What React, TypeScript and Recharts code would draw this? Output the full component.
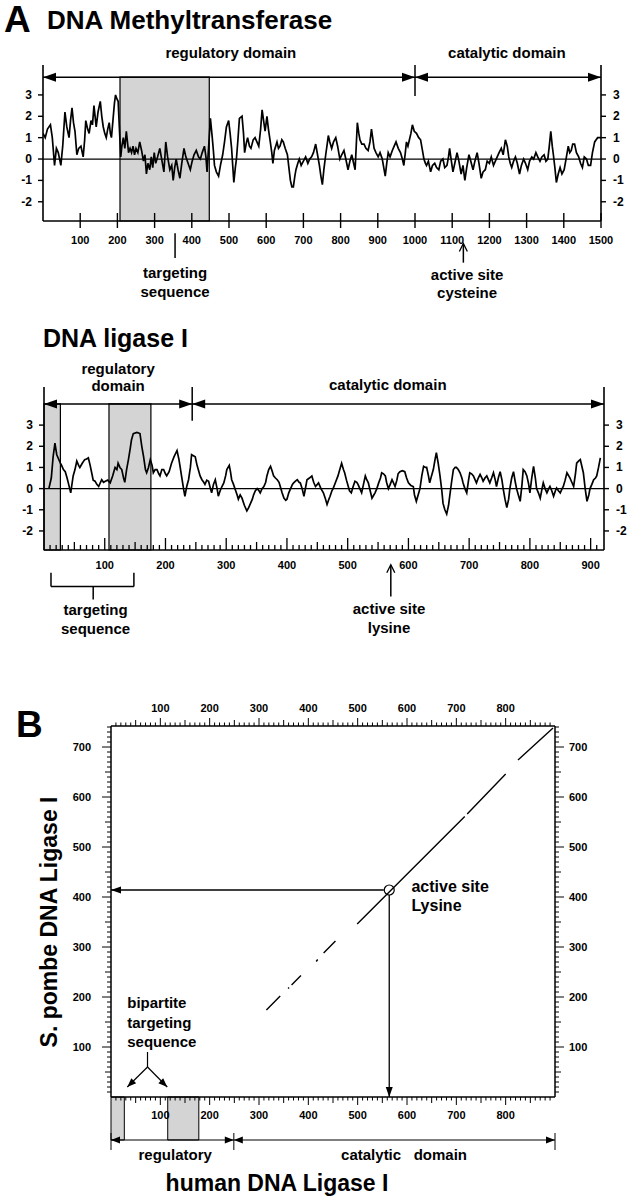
import React from "react";
import {
  ComposedChart,
  Line,
  XAxis,
  YAxis,
  ReferenceLine,
  ReferenceArea,
  ReferenceDot,
} from "recharts";

const FONT = "'Liberation Sans', Arial, Helvetica, sans-serif";
const INK = "#000";
const SHADE = "#d4d4d4";

// hydropathy profile, DNA methyltransferase (residue -> score)
const mtResidue = [
  0, 6, 12, 20, 25, 31, 36, 41, 48, 53, 59, 64, 70, 74, 78, 82, 86, 91, 96, 102,
  108, 112, 115, 120, 124, 129, 133, 137, 140, 143, 148, 154, 158, 162, 166, 170, 174, 178, 181, 184,
  188, 192, 195, 199, 202, 206, 209, 212, 216, 220, 224, 227, 230, 234, 238, 242, 246, 250, 255, 260,
  265, 270, 274, 278, 282, 287, 291, 295, 299, 303, 308, 314, 319, 325, 328, 330, 335, 341, 346, 350,
  354, 358, 363, 368, 373, 379, 384, 390, 396, 401, 406, 412, 418, 423, 428, 434, 438, 441, 445, 450,
  455, 458, 461, 466, 472, 477, 483, 488, 493, 499, 503, 507, 510, 513, 517, 520, 524, 528, 535, 539,
  542, 546, 550, 555, 559, 565, 570, 575, 580, 585, 589, 593, 597, 602, 606, 611, 615, 618, 622, 629,
  633, 637, 642, 646, 651, 657, 661, 665, 669, 673, 677, 680, 685, 689, 694, 700, 706, 712, 717, 722,
  727, 733, 738, 743, 747, 751, 755, 760, 764, 767, 771, 776, 781, 787, 792, 798, 803, 809, 814, 820,
  825, 830, 835, 839, 842, 845, 849, 852, 857, 863, 868, 874, 879, 883, 887, 890, 895, 901, 906, 912,
  916, 920, 924, 928, 933, 939, 944, 949, 955, 961, 966, 970, 974, 977, 981, 985, 989, 993, 998, 1004,
  1010, 1015, 1020, 1024, 1028, 1031, 1036, 1042, 1047, 1053, 1058, 1064, 1069, 1075, 1080, 1086, 1090, 1093, 1097, 1102,
  1107, 1113, 1118, 1124, 1129, 1134, 1139, 1145, 1150, 1156, 1161, 1167, 1172, 1178, 1183, 1189, 1194, 1200, 1205, 1211,
  1216, 1221, 1226, 1232, 1237, 1243, 1248, 1252, 1256, 1260, 1265, 1270, 1275, 1281, 1286, 1292, 1297, 1303, 1308, 1314,
  1319, 1325, 1330, 1336, 1341, 1347, 1352, 1357, 1361, 1365, 1369, 1372, 1376, 1380, 1385, 1390, 1395, 1401, 1406, 1412,
  1416, 1420, 1424, 1429, 1434, 1440, 1445, 1450, 1455, 1461, 1466, 1472, 1477, 1483, 1487, 1491, 1496, 1500,
];
const mtScore = [
  1.2, 1.0, 1.4, 1.6, 1.0, -0.3, 0.5, 0.3, -0.3, 0.6, 2.2, 1.5, 1.0, 1.8, 2.4, 1.7, 1.3, 0.2, 0.5, 0.6,
  0.1, 0.9, 1.8, 1.4, 1.2, 1.8, 1.6, 2.5, 2.0, 1.5, 2.2, 2.7, 2.0, 1.5, 1.2, 1.0, 1.4, 1.7, 1.2, 1.0,
  1.8, 2.6, 3.0, 2.8, 2.7, 1.2, 0.1, 0.6, 1.0, 0.5, 1.3, 0.8, 0.3, 0.5, 0.3, 0.6, 0.2, 0.5, 0.3, 0.8,
  0.4, -0.1, 0.2, -0.7, -0.2, -0.5, 0.1, -0.4, 0.3, -0.2, 0.1, 0.5, 0.0, -0.6, 0.2, 0.8, 0.1, -0.5, -0.3, -1.0,
  -0.4, 0.0, -0.5, -0.9, -0.2, 0.5, 0.1, -0.2, -0.5, -0.1, 0.2, 0.4, 0.1, 0.0, 0.3, 0.6, 0.1, -0.6, 0.5, 1.9,
  1.0, 0.4, -0.3, -0.6, -0.8, -0.3, 0.2, 0.8, 1.5, 1.8, 1.2, 0.5, -0.3, -1.1, -0.4, 0.0, 0.9, 1.9, 2.0, 1.2,
  0.3, 0.7, 1.0, 0.6, 0.5, 0.9, 1.0, 0.8, 0.6, 1.4, 2.3, 1.8, 1.3, 2.0, 1.4, 0.8, 0.3, -0.2, 0.4, 0.8,
  0.5, 0.6, 0.9, 0.8, 0.5, 0.2, -0.4, -1.0, -1.3, -1.3, -0.8, -0.5, -0.2, 0.0, -0.3, -0.1, 0.1, -0.2, 0.0, 0.1,
  0.3, 0.7, 0.2, -0.3, -0.8, -1.2, -0.5, 0.2, 0.7, 1.1, 0.8, 0.5, 0.8, 1.0, 0.6, 0.0, 0.2, 0.4, 0.0, -0.5,
  -0.1, 0.2, -0.2, -0.5, 0.6, 1.7, 1.2, 0.9, 0.7, 0.7, 0.5, 0.4, 0.8, 1.4, 0.9, 0.5, 0.3, 0.1, 0.3, 0.0,
  -0.4, -0.8, -0.2, 0.3, 0.1, 0.4, 0.6, 0.8, 0.5, 0.3, 0.0, -0.3, 0.3, 0.8, 0.6, 0.9, 1.2, 1.6, 1.3, 1.2,
  1.0, 0.9, 0.4, 0.0, -0.2, -0.3, -0.1, -0.6, -0.3, -0.2, -0.4, -0.5, -0.1, 0.0, -0.4, -0.3, 0.1, 0.5, 0.0, -0.6,
  -0.2, 0.3, -0.1, -0.7, -0.3, -1.0, -0.4, 0.2, -0.1, -0.5, -0.1, 0.3, -0.2, -0.9, -0.6, -0.5, -0.1, -0.2, 0.1, -0.3,
  -0.1, 0.1, 0.3, 0.5, 0.2, 0.9, 0.6, 0.1, -0.2, -0.4, -0.1, 0.1, -0.2, -0.7, -0.3, 0.0, -0.2, -0.5, -0.1, 0.1,
  0.0, 0.3, 0.1, -0.1, 0.1, 0.2, -0.1, 0.0, 0.6, 1.3, 0.6, 0.2, -0.4, -1.1, -0.7, -0.4, -0.7, -0.5, 0.0, 0.6,
  0.3, 0.4, 0.7, 0.7, 0.3, 0.1, -0.2, -0.4, 0.1, 0.0, -0.3, -0.3, 0.3, 0.8, 0.9, 1.0, 1.0, 1.0,
];

// hydropathy profile, DNA ligase I (residue -> score)
const ligResidue = [
  8, 12, 15, 18, 21, 24, 27, 29, 32, 35, 38, 40, 44, 48, 51, 54, 57, 59, 63, 67,
  70, 73, 76, 78.5, 81, 84, 87, 90, 93, 95, 98, 101, 105, 109, 113, 117, 120, 122, 125, 128,
  131, 133, 136, 139, 142, 144, 147, 153, 158, 161, 164, 167, 169, 172, 175, 178, 180, 183, 186, 189,
  191, 194, 197, 200, 202, 206, 210, 214, 219, 222, 224, 227, 230, 232, 235, 238, 241, 243, 246, 249,
  252, 254, 257, 260, 263, 265, 268, 271, 274, 276, 279, 282, 285, 287, 290, 293, 296, 299, 301, 305,
  307, 309, 312, 315, 318, 320, 323, 326, 330, 334, 337, 340, 343, 345, 348, 351, 354, 356, 359, 362,
  365, 367, 370, 373, 376, 378, 381, 384, 387, 389, 392, 395, 398, 400, 403, 406, 409, 411, 414, 417,
  420, 422, 425, 428, 431, 433, 437, 441, 444, 447, 450, 452, 456, 460, 463, 466, 469, 471, 474, 476,
  480, 484, 487, 490, 493, 495, 498, 501, 503, 506, 509, 512, 515, 517, 520, 523, 526, 529, 531, 534,
  537, 540, 543, 545, 548, 551, 554, 556, 559, 562, 564, 567, 570, 573, 575, 578, 581, 583, 586, 590,
  594, 597, 600, 604, 608, 610, 613, 616, 619, 622, 625, 628, 630, 633, 635, 638, 641, 644, 646, 649,
  652, 655, 657, 660, 663, 666, 668, 671, 674, 677, 679, 682, 685, 688, 690, 693, 696, 699, 701, 704,
  707, 710, 712, 715, 718, 721, 723, 726, 729, 732, 734, 737, 740, 743, 745, 748, 751, 754, 756, 759,
  762, 765, 767, 770, 773, 776, 778, 781, 784, 787, 789, 792, 795, 798, 800, 803, 806, 809, 811, 814,
  817, 820, 822, 825, 828, 831, 833, 836, 839, 842, 844, 847, 850, 853, 855, 858, 861, 864, 866, 869,
  872, 875, 877, 880, 883, 886, 888, 891, 894, 897, 899, 902, 905, 908, 910, 913, 916,
];
const ligScore = [
  0.0, 0.5, 1.5, 2.15, 1.6, 1.4, 1.2, 1.1, 0.9, 0.8, 0.5, 0.27, -0.2, 0.6, 0.9, 1.3, 1.1, 1.0, 1.2, 1.37,
  1.4, 1.45, 1.1, 0.75, 0.4, 0.35, 0.2, 0.1, 0.3, 0.42, 0.3, 0.35, 0.4, 0.27, 0.6, 1.0, 0.9, 1.2, 1.0, 0.9,
  0.5, 0.3, 0.9, 1.37, 1.9, 2.3, 2.6, 2.65, 2.6, 2.0, 1.5, 0.9, 0.75, 1.0, 1.37, 1.1, 0.75, 0.9, 0.9, 0.7,
  0.6, 0.9, 0.9, 0.7, 0.6, 0.8, 1.2, 1.5, 1.8, 1.4, 1.05, 0.5, -0.05, -0.36, 0.1, 0.42, 1.0, 1.6, 1.55, 1.5,
  1.1, 0.9, 0.6, 0.42, 0.3, 0.2, 0.4, 0.35, 0.0, -0.2, 0.2, 0.42, 0.0, -0.36, -0.1, 0.1, 0.27, 0.6, 0.9, 1.1,
  0.8, 0.42, 0.2, -0.05, -0.3, -0.5, -0.3, -0.45, -0.8, -1.05, -0.9, -0.7, -0.5, -0.3, -0.1, 0.0, -0.1, -0.2, 0.0, 0.1,
  0.3, 0.6, 0.9, 1.05, 0.8, 0.6, 0.5, 0.42, 0.3, 0.1, -0.2, -0.45, -0.55, -0.5, -0.2, 0.0, 0.2, 0.27, 0.35, 0.42,
  0.3, 0.27, 0.0, -0.36, 0.1, 0.42, 0.5, 0.6, 0.3, 0.1, 0.2, 0.27, 0.0, -0.2, -0.45, -0.75, -0.5, -0.36, -0.1, 0.0,
  0.3, 0.6, 0.9, 1.2, 0.9, 0.75, 0.4, 0.1, -0.1, -0.2, 0.1, 0.35, 0.3, 0.2, 0.0, -0.2, 0.2, 0.6, 0.45, 0.27,
  -0.1, -0.45, -0.3, -0.2, 0.0, 0.27, 0.5, 0.75, 0.7, 0.6, 0.3, 0.0, 0.2, 0.42, 0.3, 0.1, 0.4, 0.7, 0.8, 0.85,
  0.8, 0.5, 0.27, 0.15, 0.1, -0.3, -0.6, -0.3, 0.0, 0.6, 1.05, 1.0, 1.0, 0.6, 0.27, 0.6, 0.9, 1.4, 1.7, 1.2,
  0.6, -0.1, -0.7, -1.0, -1.2, -0.8, -0.36, 0.3, 0.9, 1.0, 1.0, 0.9, 0.75, 0.5, 0.27, 0.0, -0.2, 0.4, 0.75, 0.7,
  0.6, 0.4, 0.27, 0.5, 0.67, 0.5, 0.35, 0.5, 0.6, 0.4, 0.27, 0.5, 0.75, 0.4, 0.1, 0.5, 0.8, 0.4, 0.0, -0.5,
  -0.9, -0.5, 0.0, 0.5, 0.8, 0.3, 0.0, -0.3, -0.6, 0.2, 0.9, 0.8, 0.6, 0.2, -0.2, 0.5, 1.05, 0.5, 0.0, -0.2,
  -0.45, 0.0, 0.27, 0.0, -0.2, 0.0, 0.1, -0.1, -0.36, -0.1, 0.03, -0.1, -0.2, 0.0, 0.1, 0.4, 0.75, 0.6, 0.5, 0.3,
  0.1, 0.7, 1.2, 1.3, 1.37, 1.0, 0.75, 0.0, -0.6, -0.3, 0.0, 0.2, 0.42, 0.5, 0.6, 1.0, 1.45,
];

// dot plot: aligned stretches, human residue vs S. pombe residue
const matchHumanFrom = [896, 800, 717, 455, 419, 385, 361, 343];
const matchPombeFrom = [738, 646, 561, 312, 275, 243, 219, 202];
const matchHumanTo = [825, 722, 499, 431, 416, 366, 359, 315];
const matchPombeTo = [674, 566, 346, 288, 271, 224, 217, 174];
const activeSite = { human: 564, pombe: 414 };

const scoreTicks = [-2, -1, 0, 1, 2, 3];
const mtTickLabels = [100, 200, 300, 400, 500, 600, 700, 800, 900, 1000, 1100, 1200, 1300, 1400, 1500];
const ligTickLabels = [100, 200, 300, 400, 500, 600, 700, 800, 900];
const dotXLabels = [100, 200, 300, 400, 500, 600, 700, 800];
const dotYLabels = [100, 200, 300, 400, 500, 600, 700];

const ligRuler = Array.from({ length: 91 }, (_, i) => (i + 1) * 10);
const dotXRuler = Array.from({ length: 89 }, (_, i) => (i + 1) * 10);
const dotYRuler = Array.from({ length: 74 }, (_, i) => (i + 1) * 10);

const mtData = mtResidue.map((r, i) => ({ r, s: mtScore[i] }));
const ligData = ligResidue.map((r, i) => ({ r, s: ligScore[i] }));
const matchData = matchHumanFrom.flatMap((h, i) => [
  { h, p: matchPombeFrom[i] },
  { h: matchHumanTo[i], p: matchPombeTo[i] },
  { h: matchHumanTo[i], p: null },
]);

const tickFont = { fontFamily: FONT, fontWeight: 700, fontSize: 11, fill: INK };

const rulerLen = (v: number, big: number, mid: number, small: number) =>
  v % 100 === 0 ? big : v % 50 === 0 ? mid : small;

// ---------- tick renderers ----------
const MtXTick = ({ x, y, payload }: any) => (
  <g>
    <line x1={x} x2={x} y1={y - 8} y2={y + 7} stroke={INK} strokeWidth={1.4} />
    <text x={x} y={y + 23} textAnchor="middle" {...tickFont}>{payload.value}</text>
  </g>
);

const LeftScoreTick = ({ x, y, payload }: any) => (
  <g>
    <line x1={x - 5} x2={x} y1={y} y2={y} stroke={INK} strokeWidth={1.4} />
    <text x={x - 11} y={y + 4} textAnchor="end" {...tickFont} fontSize={12}>{payload.value}</text>
  </g>
);

const RightScoreTick = ({ x, y, payload }: any) => (
  <g>
    <line x1={x} x2={x + 5} y1={y} y2={y} stroke={INK} strokeWidth={1.4} />
    <text x={x + 12} y={y + 4} textAnchor="start" {...tickFont} fontSize={12}>{payload.value}</text>
  </g>
);

const LigXTick = ({ x, y, payload }: any) => {
  const v = payload.value;
  return (
    <g>
      <line x1={x} x2={x} y1={y} y2={y - rulerLen(v, 12, 8, 5)} stroke={INK} strokeWidth={1.3} />
      {ligTickLabels.includes(v) && (
        <text x={x} y={y + 19} textAnchor="middle" {...tickFont}>{v}</text>
      )}
    </g>
  );
};

const DotTopTick = ({ x, y, payload }: any) => {
  const v = payload.value;
  return (
    <g>
      <line x1={x} x2={x} y1={y} y2={y - rulerLen(v, 8, 6, 3.5)} stroke={INK} strokeWidth={1} />
      {dotXLabels.includes(v) && (
        <text x={x} y={y - 14} textAnchor="middle" {...tickFont}>{v}</text>
      )}
    </g>
  );
};

const DotBottomTick = ({ x, y, payload }: any) => {
  const v = payload.value;
  return (
    <g>
      <line x1={x} x2={x} y1={y} y2={y + rulerLen(v, 8, 6, 3.5)} stroke={INK} strokeWidth={1} />
      {dotXLabels.includes(v) && (
        <text x={x} y={y + 22} textAnchor="middle" {...tickFont}>{v}</text>
      )}
    </g>
  );
};

const DotLeftTick = ({ x, y, payload }: any) => {
  const v = payload.value;
  return (
    <g>
      <line x1={x} x2={x - rulerLen(v, 9, 6, 4)} y1={y} y2={y} stroke={INK} strokeWidth={1} />
      {dotYLabels.includes(v) && (
        <text x={x - 20} y={y + 4} textAnchor="end" {...tickFont}>{v}</text>
      )}
    </g>
  );
};

const DotRightTick = ({ x, y, payload }: any) => {
  const v = payload.value;
  return (
    <g>
      <line x1={x} x2={x + rulerLen(v, 9, 6, 4)} y1={y} y2={y} stroke={INK} strokeWidth={1} />
      {dotYLabels.includes(v) && (
        <text x={x + 14} y={y + 4} textAnchor="start" {...tickFont}>{v}</text>
      )}
    </g>
  );
};

// ---------- annotation helpers ----------
const head = (angle: number, len = 13, half = 4.5) => (p: any) => (
  <path
    d={`M${p.cx},${p.cy}L${p.cx - len},${p.cy - half}L${p.cx - len},${p.cy + half}Z`}
    transform={`rotate(${angle} ${p.cx} ${p.cy})`}
    fill={INK}
  />
);

const chevron = (p: any) => (
  <path
    d={`M${p.cx - 4},${p.cy + 8}L${p.cx},${p.cy}L${p.cx + 4},${p.cy + 8}`}
    fill="none"
    stroke={INK}
    strokeWidth={1.3}
  />
);

const words = (text: string, size: number, anchor = "middle") => (p: any) => (
  <text
    x={p.cx}
    y={p.cy}
    textAnchor={anchor}
    dominantBaseline="central"
    fontFamily={FONT}
    fontWeight={700}
    fontSize={size}
    fill={INK}
    style={{ whiteSpace: "pre" }}
  >
    {text}
  </text>
);

const seg = (key: string, x1: number, y1: number, x2: number, y2: number, w = 1.5) => (
  <ReferenceLine
    key={key}
    segment={[{ x: x1, y: y1 }, { x: x2, y: y2 }]}
    stroke={INK}
    strokeWidth={w}
    ifOverflow="visible"
  />
);

const mark = (key: string, x: number, y: number, shape: any) => (
  <ReferenceDot key={key} x={x} y={y} shape={shape} ifOverflow="visible" />
);

// ---------- panel A, DNA methyltransferase ----------
function MethyltransferasePlot() {
  return (
    <ComposedChart
      width={634}
      height={320}
      data={mtData}
      margin={{ top: 65, right: 3, bottom: 69, left: 13 }}
    >
      <XAxis
        dataKey="r"
        type="number"
        domain={[0, 1500]}
        ticks={mtTickLabels}
        interval={0}
        allowDataOverflow
        height={30}
        tickSize={0}
        tickMargin={0}
        tickLine={false}
        axisLine={{ stroke: INK, strokeWidth: 1.6 }}
        tick={MtXTick}
      />
      <YAxis
        yAxisId="l"
        type="number"
        domain={[-2.9, 4.4]}
        ticks={scoreTicks}
        interval={0}
        allowDataOverflow
        width={30}
        tickSize={0}
        tickMargin={0}
        tickLine={false}
        axisLine={{ stroke: INK, strokeWidth: 1.6 }}
        tick={LeftScoreTick}
      />
      <YAxis
        yAxisId="r"
        orientation="right"
        type="number"
        domain={[-2.9, 4.4]}
        ticks={scoreTicks}
        interval={0}
        allowDataOverflow
        width={30}
        tickSize={0}
        tickMargin={0}
        tickLine={false}
        axisLine={{ stroke: INK, strokeWidth: 1.6 }}
        tick={RightScoreTick}
      />
      <ReferenceArea yAxisId="l" x1={207} x2={447} y1={-2.9} y2={3.83} fill={SHADE} fillOpacity={1} stroke={INK} strokeWidth={1.2} />
      <ReferenceLine yAxisId="l" y={0} stroke={INK} strokeWidth={1.3} />
      <Line
        yAxisId="l"
        dataKey="s"
        type="linear"
        stroke={INK}
        strokeWidth={1.7}
        dot={false}
        activeDot={false}
        isAnimationActive={false}
      />
      {[
        ["a1", 0, 3.83, 1500, 3.83],
        ["a2", 1000, 4.4, 1000, 2.95],
        ["a3", 355, -3.47, 355, -4.63],
        ["a4", 1130, -4.0, 1130, -4.85],
      ].map(([k, x1, y1, x2, y2]: any) => (
        <ReferenceLine
          key={k}
          yAxisId="l"
          segment={[{ x: x1, y: y1 }, { x: x2, y: y2 }]}
          stroke={INK}
          strokeWidth={1.5}
          ifOverflow="visible"
        />
      ))}
      {[
        ["h1", 0, 3.83, head(180)],
        ["h2", 1000, 3.83, head(0)],
        ["h3", 1000, 3.83, head(180)],
        ["h4", 1500, 3.83, head(0)],
        ["h5", 1130, -3.95, chevron],
        ["t1", 505, 5.0, words("regulatory domain", 15)],
        ["t2", 1247, 5.0, words("catalytic domain", 15)],
        ["t3", 355, -5.33, words("targeting", 15)],
        ["t4", 355, -6.2, words("sequence", 15)],
        ["t5", 1140, -5.42, words("active site", 15)],
        ["t6", 1140, -6.26, words("cysteine", 15)],
      ].map(([k, x, y, shape]: any) => (
        <ReferenceDot key={k} yAxisId="l" x={x} y={y} shape={shape} ifOverflow="visible" />
      ))}
    </ComposedChart>
  );
}

// ---------- panel A, DNA ligase I ----------
function LigasePlot() {
  return (
    <ComposedChart
      width={634}
      height={320}
      data={ligData}
      margin={{ top: 57, right: 0, bottom: 70, left: 14 }}
    >
      <XAxis
        dataKey="r"
        type="number"
        domain={[0, 922]}
        ticks={ligRuler}
        interval={0}
        allowDataOverflow
        height={30}
        tickSize={0}
        tickMargin={0}
        tickLine={false}
        axisLine={{ stroke: INK, strokeWidth: 1.6 }}
        tick={LigXTick}
      />
      <YAxis
        yAxisId="l"
        type="number"
        domain={[-2.9, 4.8]}
        ticks={scoreTicks}
        interval={0}
        allowDataOverflow
        width={30}
        tickSize={0}
        tickMargin={0}
        tickLine={false}
        axisLine={{ stroke: INK, strokeWidth: 1.6 }}
        tick={LeftScoreTick}
      />
      <YAxis
        yAxisId="r"
        orientation="right"
        type="number"
        domain={[-2.9, 4.8]}
        ticks={scoreTicks}
        interval={0}
        allowDataOverflow
        width={30}
        tickSize={0}
        tickMargin={0}
        tickLine={false}
        axisLine={{ stroke: INK, strokeWidth: 1.6 }}
        tick={RightScoreTick}
      />
      <ReferenceArea yAxisId="l" x1={0} x2={27} y1={-2.9} y2={4.0} fill={SHADE} fillOpacity={1} stroke={INK} strokeWidth={1.2} />
      <ReferenceArea yAxisId="l" x1={107} x2={176} y1={-2.9} y2={4.0} fill={SHADE} fillOpacity={1} stroke={INK} strokeWidth={1.2} />
      <ReferenceLine yAxisId="l" y={0} stroke={INK} strokeWidth={1.3} />
      <Line
        yAxisId="l"
        dataKey="s"
        type="linear"
        stroke={INK}
        strokeWidth={1.7}
        dot={false}
        activeDot={false}
        isAnimationActive={false}
      />
      {[
        ["a1", 0, 4.0, 922, 4.0],
        ["a2", 244, 4.8, 244, 3.2],
        ["b1", 11.5, -3.97, 11.5, -4.63],
        ["b2", 11.5, -4.63, 148, -4.63],
        ["b3", 148, -4.63, 148, -3.97],
        ["b4", 81, -4.63, 81, -5.24],
        ["a3", 571, -3.62, 571, -5.1],
      ].map(([k, x1, y1, x2, y2]: any) => (
        <ReferenceLine
          key={k}
          yAxisId="l"
          segment={[{ x: x1, y: y1 }, { x: x2, y: y2 }]}
          stroke={INK}
          strokeWidth={1.5}
          ifOverflow="visible"
        />
      ))}
      {[
        ["h1", 0, 4.0, head(180)],
        ["h2", 244, 4.0, head(0)],
        ["h3", 244, 4.0, head(180)],
        ["h4", 922, 4.0, head(0)],
        ["h5", 571, -3.6, chevron],
        ["t1", 122, 5.67, words("regulatory", 15)],
        ["t2", 122, 4.85, words("domain", 15)],
        ["t3", 566, 4.91, words("catalytic domain", 15)],
        ["t4", 85, -5.72, words("targeting", 15)],
        ["t5", 85, -6.61, words("sequence", 15)],
        ["t6", 568, -5.67, words("active site", 15)],
        ["t7", 568, -6.57, words("lysine", 15)],
      ].map(([k, x, y, shape]: any) => (
        <ReferenceDot key={k} yAxisId="l" x={x} y={y} shape={shape} ifOverflow="visible" />
      ))}
    </ComposedChart>
  );
}

// ---------- panel B, dot plot ----------
function DotPlot() {
  const { human, pombe } = activeSite;
  return (
    <ComposedChart
      width={634}
      height={520}
      data={matchData}
      margin={{ top: 16, right: 39, bottom: 73, left: 71 }}
    >
      <XAxis
        dataKey="h"
        type="number"
        domain={[0, 900]}
        ticks={dotXRuler}
        interval={0}
        allowDataOverflow
        height={30}
        tickSize={0}
        tickMargin={0}
        tickLine={false}
        axisLine={{ stroke: INK, strokeWidth: 1.5 }}
        tick={DotBottomTick}
      />
      <XAxis
        xAxisId="top"
        orientation="top"
        dataKey="h"
        type="number"
        domain={[0, 900]}
        ticks={dotXRuler}
        interval={0}
        allowDataOverflow
        height={30}
        tickSize={0}
        tickMargin={0}
        tickLine={false}
        axisLine={{ stroke: INK, strokeWidth: 1.5 }}
        tick={DotTopTick}
      />
      <YAxis
        type="number"
        domain={[0, 742]}
        ticks={dotYRuler}
        interval={0}
        allowDataOverflow
        width={40}
        tickSize={0}
        tickMargin={0}
        tickLine={false}
        axisLine={{ stroke: INK, strokeWidth: 1.5 }}
        tick={DotLeftTick}
      />
      <YAxis
        yAxisId="right"
        orientation="right"
        type="number"
        domain={[0, 742]}
        ticks={dotYRuler}
        interval={0}
        allowDataOverflow
        width={40}
        tickSize={0}
        tickMargin={0}
        tickLine={false}
        axisLine={{ stroke: INK, strokeWidth: 1.5 }}
        tick={DotRightTick}
      />
      <ReferenceArea x1={0} x2={27} y1={-86} y2={0} fill={SHADE} fillOpacity={1} stroke={INK} strokeWidth={1} ifOverflow="visible" />
      <ReferenceArea x1={115} x2={178} y1={-86} y2={0} fill={SHADE} fillOpacity={1} stroke={INK} strokeWidth={1} ifOverflow="visible" />
      <Line
        dataKey="p"
        type="linear"
        stroke={INK}
        strokeWidth={1.4}
        dot={false}
        activeDot={false}
        connectNulls={false}
        isAnimationActive={false}
      />
      {seg("s1", human - 11, pombe, 0, pombe, 1.3)}
      {seg("s2", human, pombe - 10, human, 0, 1.3)}
      {seg("s3", 74, 90, 74, 60, 1.2)}
      {seg("s4", 74, 60, 33, 20, 1.2)}
      {seg("s5", 74, 60, 114, 20, 1.2)}
      {seg("s6", 0, -86, 900, -86, 1.2)}
      {seg("s7", 0, -72, 0, -106, 1)}
      {seg("s8", 249, -72, 249, -106, 1)}
      {seg("s9", 900, -72, 900, -106, 1)}
      {mark("m1", 0, pombe, head(180, 10, 3.5))}
      {mark("m2", human, 0, head(90, 10, 3.5))}
      {mark("m3", 33, 20, head(136, 9, 3.5))}
      {mark("m4", 114, 20, head(44, 9, 3.5))}
      {mark("m5", 0, -86, head(180, 9, 3.5))}
      {mark("m6", 249, -86, head(0, 9, 3.5))}
      {mark("m7", 249, -86, head(180, 9, 3.5))}
      {mark("m8", 900, -86, head(0, 9, 3.5))}
      <ReferenceDot x={human} y={pombe} r={5} fill="#fff" fillOpacity={0} stroke={INK} strokeWidth={1.2} ifOverflow="visible" />
      {mark("w1", 609, 422, words("active site", 16, "start"))}
      {mark("w2", 609, 384, words("Lysine", 16, "start"))}
      {mark("w3", 33, 190, words("bipartite", 15, "start"))}
      {mark("w4", 33, 150, words("targeting", 15, "start"))}
      {mark("w5", 33, 112, words("sequence", 15, "start"))}
      {mark("w6", 130, -114, words("regulatory", 15))}
      {mark("w7", 594, -114, words("catalytic   domain", 15))}
    </ComposedChart>
  );
}

export default function App() {
  return (
    <div style={{ position: "absolute", left: 0, top: 0, width: 634, height: 1200, background: "#fff", overflow: "hidden" }}>
      <div style={{ position: "absolute", left: 0, top: 0 }}>
        <MethyltransferasePlot />
      </div>
      <div style={{ position: "absolute", left: 0, top: 330 }}>
        <LigasePlot />
      </div>
      <div style={{ position: "absolute", left: 0, top: 680 }}>
        <DotPlot />
      </div>
      <svg width={634} height={1200} style={{ position: "absolute", left: 0, top: 0, pointerEvents: "none" }}>
        <g fontFamily={FONT} fontWeight={700} fill={INK}>
          <text x={4} y={32} fontSize={37}>A</text>
          <text x={47} y={29} fontSize={26}>DNA Methyltransferase</text>
          <text x={43} y={347} fontSize={25}>DNA ligase I</text>
          <text x={16} y={737} fontSize={37}>B</text>
          <text x={277} y={1191} fontSize={23} textAnchor="middle">human DNA Ligase I</text>
          <text transform="translate(57,922) rotate(-90)" fontSize={23} textAnchor="middle">S. pombe DNA Ligase I</text>
        </g>
      </svg>
    </div>
  );
}
